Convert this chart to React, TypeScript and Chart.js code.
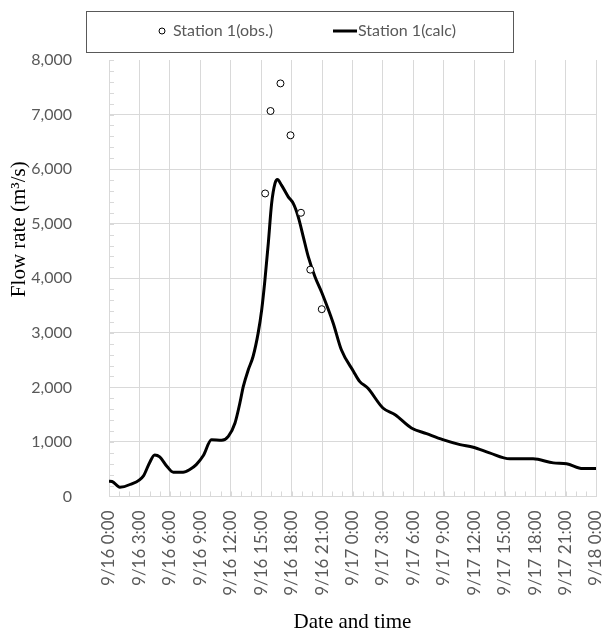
import React, { useEffect, useRef } from "react";
import { Chart, registerables } from "chart.js";

Chart.register(...registerables);

// Calculated hydrograph: hours since 9/16 0:00 and flow (m3/s)
const calcHours = [0, 0.3, 1.07, 2.07, 3.4, 4.0, 4.5, 5.0, 5.7, 6.34, 7.3, 8.0, 8.6, 9.3, 10.1, 11.1, 11.76, 12.42, 12.9, 13.24, 13.73, 14.2, 14.7, 15.05, 15.37, 15.7, 16.03, 16.36, 16.6, 17.0, 17.67, 18.16, 18.65, 19.15, 19.64, 20.3, 21.0, 22.1, 22.9, 24.1, 24.7, 25.5, 27.0, 28.2, 29.8, 31.3, 32.9, 34.6, 35.9, 37.5, 39.5, 41.8, 43.8, 45.1, 46.7, 48];
const calcValues = [280, 275, 170, 220, 380, 620, 760, 725, 555, 445, 445, 500, 585, 750, 1040, 1030, 1103, 1348, 1713, 2017, 2323, 2566, 2994, 3420, 3969, 4640, 5371, 5737, 5810, 5706, 5492, 5371, 5126, 4760, 4395, 4029, 3725, 3176, 2690, 2292, 2109, 1988, 1622, 1500, 1256, 1152, 1042, 951, 902, 799, 690, 690, 616, 600, 512, 512];

// Observed flow
const obsHours = [15.39, 15.92, 16.9, 17.89, 18.92, 19.84, 20.97];
const obsValues = [5554, 7065, 7571, 6620, 5200, 4157, 3433];

const xTickLabels = ["9/16 0:00", "9/16 3:00", "9/16 6:00", "9/16 9:00", "9/16 12:00", "9/16 15:00", "9/16 18:00", "9/16 21:00", "9/17 0:00", "9/17 3:00", "9/17 6:00", "9/17 9:00", "9/17 12:00", "9/17 15:00", "9/17 18:00", "9/17 21:00", "9/18 0:00"];

const obsLabel = "Station 1(obs.)";
const calcLabel = "Station 1(calc)";
const yTitle = "Flow rate (m\u00B3/s)";
const xTitle = "Date and time";

const TICK_FONT = "Lato";
const TICK_COLOR = "#595959";
const GRID_COLOR = "#d9d9d9";

const minorTicksPlugin = {
  id: "minorTicks",
  beforeDatasetsDraw(chart: any) {
    const { ctx, scales } = chart;
    const xs = scales.x;
    const ys = scales.y;
    ctx.save();
    ctx.strokeStyle = GRID_COLOR;
    ctx.lineWidth = 1;
    ctx.beginPath();
    for (let h = xs.min; h <= xs.max; h += 1) {
      const px = Math.round(xs.getPixelForValue(h)) + 0.5;
      ctx.moveTo(px, ys.bottom);
      ctx.lineTo(px, ys.bottom - 5);
    }
    for (let v = ys.min; v <= ys.max; v += 200) {
      const py = Math.round(ys.getPixelForValue(v)) + 0.5;
      ctx.moveTo(xs.left, py);
      ctx.lineTo(xs.left + 5, py);
    }
    ctx.stroke();
    ctx.restore();
  },
};

const legendAndTitlePlugin = {
  id: "legendAndTitle",
  afterDraw(chart: any) {
    const { ctx, scales } = chart;
    const ys = scales.y;
    ctx.save();
    // legend box
    ctx.strokeStyle = "#595959";
    ctx.lineWidth = 1;
    ctx.strokeRect(86.5, 11.5, 427, 41);
    const cy = 31;
    ctx.beginPath();
    ctx.arc(162, cy, 3, 0, Math.PI * 2);
    ctx.fillStyle = "#ffffff";
    ctx.fill();
    ctx.strokeStyle = "#000000";
    ctx.stroke();
    ctx.font = `16px ${TICK_FONT}`;
    ctx.fillStyle = TICK_COLOR;
    ctx.textAlign = "left";
    ctx.textBaseline = "middle";
    ctx.fillText(obsLabel, 173, cy);
    ctx.beginPath();
    ctx.moveTo(333, cy);
    ctx.lineTo(357, cy);
    ctx.lineWidth = 3;
    ctx.strokeStyle = "#000000";
    ctx.stroke();
    ctx.fillText(calcLabel, 358, cy);
    // y-axis title
    ctx.translate(19, (ys.top + ys.bottom) / 2 - 49);
    ctx.rotate(-Math.PI / 2);
    ctx.font = `21px "Liberation Serif"`;
    ctx.fillStyle = "#000000";
    ctx.textAlign = "center";
    ctx.fillText(yTitle, 0, 0);
    ctx.restore();
  },
};

export default function App() {
  const canvasRef = useRef<HTMLCanvasElement | null>(null);

  useEffect(() => {
    document.body.style.margin = "0";
    document.body.style.overflow = "hidden";
    const canvas = canvasRef.current;
    if (!canvas) return;
    const chart = new Chart(canvas, {
      type: "line",
      data: {
        datasets: [
          {
            label: obsLabel,
            data: obsHours.map((h, i) => ({ x: h, y: obsValues[i] })),
            showLine: false,
            pointStyle: "circle",
            pointRadius: 3.5,
            pointBorderWidth: 1,
            pointBorderColor: "#000000",
            pointBackgroundColor: "#ffffff",
            borderColor: "#000000",
            backgroundColor: "#ffffff",
          },
          {
            label: calcLabel,
            data: calcHours.map((h, i) => ({ x: h, y: calcValues[i] })),
            borderColor: "#000000",
            borderWidth: 3,
            pointRadius: 0,
            cubicInterpolationMode: "monotone",
            fill: false,
          },
        ],
      },
      options: {
        animation: false,
        responsive: false,
        maintainAspectRatio: false,
        layout: { padding: { left: 30, top: 60, right: 0, bottom: 0 } },
        plugins: {
          legend: { display: false },
          tooltip: { enabled: false },
        },
        scales: {
          x: {
            type: "linear",
            min: 0,
            max: 48,
            afterFit: (s: any) => {
              s.paddingLeft = 0;
              s.paddingRight = 9;
            },
            ticks: {
              stepSize: 3,
              autoSkip: false,
              maxRotation: 90,
              minRotation: 90,
              padding: 14,
              color: TICK_COLOR,
              font: { family: TICK_FONT, size: 17 },
              callback: (v: any) => xTickLabels[Math.round(Number(v) / 3)],
            },
            grid: { color: GRID_COLOR, drawTicks: false },
            border: { color: GRID_COLOR },
            title: {
              display: true,
              text: xTitle,
              color: "#000000",
              font: { family: "Liberation Serif", size: 21 },
              padding: { top: 0, bottom: 0 },
            },
          },
          y: {
            min: 0,
            max: 8000,
            afterFit: (s: any) => {
              s.width = 79;
            },
            ticks: {
              stepSize: 1000,
              padding: 37,
              color: TICK_COLOR,
              font: { family: TICK_FONT, size: 16 },
              callback: (v: any) => Number(v).toLocaleString("en-US"),
            },
            grid: {
              drawTicks: false,
              color: (c: any) => (c.tick && c.tick.value === 8000 ? "rgba(0,0,0,0)" : GRID_COLOR),
            },
            border: { color: GRID_COLOR },
          },
        },
      },
      plugins: [minorTicksPlugin, legendAndTitlePlugin],
    });
    return () => chart.destroy();
  }, []);

  return (
    <div style={{ width: 605, height: 635, background: "#ffffff" }}>
      <canvas ref={canvasRef} width={605} height={635} style={{ display: "block" }} />
    </div>
  );
}
